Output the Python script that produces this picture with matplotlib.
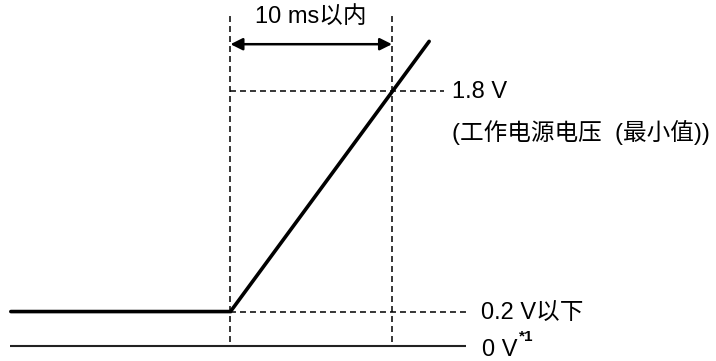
import matplotlib
matplotlib.use('Agg')
import matplotlib.pyplot as plt

plt.rcParams['font.family'] = ['Liberation Sans', 'Noto Sans CJK SC', 'DejaVu Sans']
plt.rcParams['lines.scale_dashes'] = False

# schematic coordinates: x in ms (ramp starts at 0), y in "drawn volts"
wave_t = [-13.6, 0.0, 12.3]
wave_v = [0.243, 0.243, 2.15]

zero_t = [-13.65, 14.58]
low_t = [0.0, 14.58]
low_v = 0.243
vmin_t = [0.0, 13.2]
vmin_v = 1.8
guide_t = [0.0, 10.0]
guide_v = [0.028, 2.35]
arrow_v = 2.13

span_label = '10 ms以内'
vmin_label = '1.8 V'
vmin_note = '(工作电源电压  (最小值))'
low_label = '0.2 V以下'
zero_label = '0 V'
zero_note = '*1'

fig = plt.figure(figsize=(7.16, 3.61), dpi=100)
ax = fig.add_axes([0, 0, 1, 1])
ax.set_xlim(-14.27, 30.06)
ax.set_ylim(-0.106, 2.442)
ax.axis('off')

dash = dict(color='black', lw=1.1, dashes=(4.3, 2.9))
for t in guide_t:
    ax.plot([t, t], guide_v, **dash)
ax.plot(vmin_t, [vmin_v, vmin_v], **dash)
ax.plot(low_t, [low_v, low_v], **dash)

ax.plot(zero_t, [0, 0], color='#222222', lw=1.5, solid_capstyle='butt')
ax.plot(wave_t, wave_v, color='black', lw=2.6, solid_capstyle='round', solid_joinstyle='miter')

ax.annotate('', xy=(guide_t[0], arrow_v), xytext=(guide_t[1], arrow_v),
            arrowprops=dict(arrowstyle='<|-|>', color='black', lw=1.8,
                            mutation_scale=18, shrinkA=0, shrinkB=0))

fs = 17
ax.text(5.0, 2.32, span_label, fontsize=fs, ha='center', va='center')
ax.text(13.7, 1.79, vmin_label, fontsize=fs, ha='left', va='center')
ax.text(13.7, 1.507, vmin_note, fontsize=fs, ha='left', va='center')
ax.text(15.49, 0.233, low_label, fontsize=fs, ha='left', va='center')
ax.text(15.57, -0.028, zero_label, fontsize=fs, ha='left', va='center')
ax.text(17.85, 0.06, zero_note, fontsize=11, fontweight='bold', ha='left', va='center')

fig.savefig('out.png', dpi=100)
